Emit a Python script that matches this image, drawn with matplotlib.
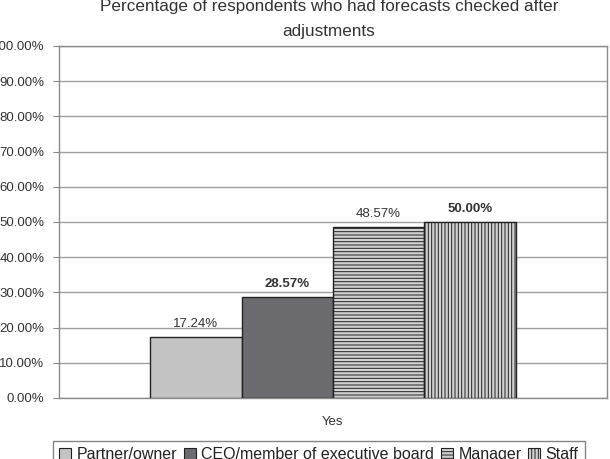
import matplotlib
matplotlib.use("Agg")
import matplotlib.pyplot as plt
from matplotlib.patches import Patch

plt.rcParams['font.family'] = ['Liberation Sans', 'DejaVu Sans']
plt.rcParams['hatch.linewidth'] = 0.7

categories = ["Yes"]
series = ["Partner/owner", "CEO/member of executive board", "Manager", "Staff"]
values = [17.24, 28.57, 48.57, 50.00]
bold_labels = [False, True, False, True]
yticks = [0, 10, 20, 30, 40, 50, 60, 70, 80, 90, 100]
title_lines = ["Percentage of respondents who had forecasts checked after", "adjustments"]

facecolors = ["#c4c4c4", "#6c6c70", "#d0d0d0", "#d0d0d0"]
hatches = [None, None, "-----", "|||||"]

fig = plt.figure(figsize=(6.10, 4.59), dpi=100)
ax = fig.add_axes([59/610, 1-398/459, (607-59)/610, (398-46)/459])

offsets = [-1.5, -0.5, 0.5, 1.5]
for i, (s, v) in enumerate(zip(series, values)):
    ax.bar(offsets[i], v, width=1.0, color=facecolors[i], edgecolor="#222222",
           hatch=hatches[i], linewidth=1.0, zorder=3, label=s)
    ax.annotate(f"{v:.2f}%", (offsets[i], v), xytext=(0, 5), textcoords="offset points",
                ha="center", va="bottom", fontsize=9.5, color="#333333",
                fontweight="bold" if bold_labels[i] else "normal")

ax.set_xlim(-3, 3)
ax.set_ylim(0, 100)
ax.set_yticks(yticks)
ax.set_yticklabels([f"{t:.2f}%" for t in yticks], fontsize=9.5, color="#333333")
ax.set_xticks([0])
ax.set_xticklabels(categories, fontsize=9.5, color="#333333")
ax.tick_params(axis="x", length=0, pad=13)
ax.tick_params(axis="y", length=4, color="#888888", pad=6.5)
ax.yaxis.grid(True, color="#a0a0a0", linewidth=1.0, zorder=0)
ax.set_axisbelow(True)
for sp in ax.spines.values():
    sp.set_color("#8a8a8a")
    sp.set_linewidth(1.0)

for line, yb in zip(title_lines, [11, 36]):
    fig.text(329/610, 1-yb/459, line, ha="center", va="baseline",
             fontsize=12.3, color="#333333")

handles = [Patch(facecolor=facecolors[i], edgecolor="#222222", hatch=hatches[i], linewidth=0.8)
           for i in range(4)]
leg = fig.legend(handles, series, loc="upper left", bbox_to_anchor=(53/610, 1-441/459),
                 ncol=4, fontsize=11.5, frameon=True, fancybox=False, handlelength=0.75,
                 handleheight=0.75, handletextpad=0.35, columnspacing=0.4, borderpad=0.4,
                 borderaxespad=0)
leg.get_frame().set_edgecolor("#666666")
leg.get_frame().set_linewidth(1.0)
for t in leg.get_texts():
    t.set_color("#222222")

fig.savefig("out.png", dpi=100)
